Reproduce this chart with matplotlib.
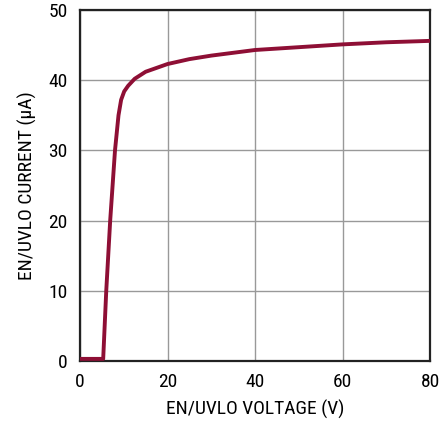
import matplotlib
matplotlib.use("Agg")
import matplotlib.pyplot as plt

voltage = [0, 2, 4, 5.3, 6.0, 6.9, 8.0, 8.8, 9.4, 10.1, 11.0, 12.5, 15, 20, 25, 30, 40, 50, 60, 70, 80]
current = [0.3, 0.3, 0.3, 0.3, 10, 20, 30, 35, 37.2, 38.4, 39.2, 40.2, 41.2, 42.3, 43.0, 43.5, 44.3, 44.7, 45.1, 45.4, 45.6]

xticks = [0, 20, 40, 60, 80]
yticks = [0, 10, 20, 30, 40, 50]

plt.rcParams['font.family'] = ['Roboto Condensed', 'DejaVu Sans']

fig = plt.figure(figsize=(4.41, 4.23), dpi=100)
ax = fig.add_axes([0.1814, 0.1466, 0.7937, 0.8298])
ax.plot(voltage, current, color='#8E0F35', lw=2.8, solid_capstyle='butt', zorder=3)
ax.set_xlim(0, 80)
ax.set_ylim(0, 50)
ax.set_xticks(xticks)
ax.set_yticks(yticks)
ax.grid(True, color='#999999', lw=1.0)
ax.tick_params(length=0, labelsize=14)
ax.tick_params(axis='y', pad=9)
ax.tick_params(axis='x', pad=9)
for s in ax.spines.values():
    s.set_color('#222222')
    s.set_linewidth(1.6)
ax.set_xlabel('EN/UVLO VOLTAGE (V)', fontsize=14, labelpad=6)
ax.set_ylabel('EN/UVLO CURRENT (µA)', fontsize=14, labelpad=8)
fig.savefig('out.png', dpi=100)
